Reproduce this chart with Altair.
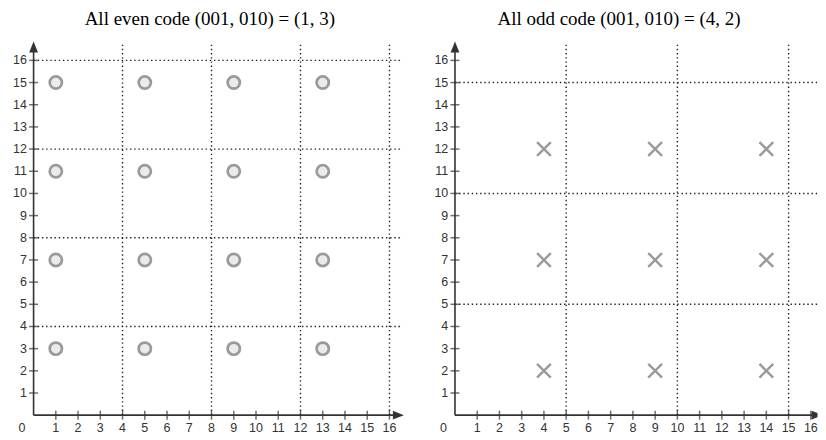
import altair as alt
import pandas as pd

# ---- data ----
titles = ["All even code (001, 010) = (1, 3)", "All odd code (001, 010) = (4, 2)"]
tick_values = list(range(1, 17))
even_x = [1, 5, 9, 13]
even_y = [3, 7, 11, 15]
odd_x = [4, 9, 14]
odd_y = [2, 7, 12]
even_grid = [4, 8, 12, 16]
odd_grid = [5, 10, 15]

# geometry of the hand-drawn axes (data units)
grid_top = 16.82
grid_right = 16.6
arrow_y = 16.6
label_off_y = -0.56
label_off_x = -0.3
zero_pos = (-0.52, -0.56)

AX = "#333333"
DOT = "#222222"
MK = "#9a9a9a"
FONT = "Liberation Sans"
FS = 12.5
UNIT = 22.27
UNIT_Y = 22.2
Y_DOM = [-0.72, 17.0]


def panel(title, px, py, kind, grid, xdom, arrow_x, clip_right=False):
    width = round((xdom[1] - xdom[0]) * UNIT, 1)
    height = round((Y_DOM[1] - Y_DOM[0]) * UNIT_Y, 1)
    xs = alt.Scale(domain=xdom, nice=False, zero=False)
    ys = alt.Scale(domain=Y_DOM, nice=False, zero=False)
    X = alt.X("x:Q", scale=xs, axis=None)
    Y = alt.Y("y:Q", scale=ys, axis=None)

    vgrid = pd.DataFrame({"x": grid, "y": [0] * len(grid), "y2": [grid_top] * len(grid)})
    hgrid = pd.DataFrame({"y": grid, "x": [0] * len(grid), "x2": [grid_right] * len(grid)})
    axes = pd.DataFrame({"x": [0, 0], "y": [0, 0], "x2": [arrow_x, 0], "y2": [0, arrow_y]})
    xt = pd.DataFrame({"x": tick_values, "y": [0] * len(tick_values)})
    yt = pd.DataFrame({"y": tick_values, "x": [0] * len(tick_values)})
    xl = pd.DataFrame({"x": tick_values, "y": [label_off_y] * len(tick_values),
                       "t": [str(v) for v in tick_values]})
    yl = pd.DataFrame({"y": tick_values, "x": [label_off_x] * len(tick_values),
                       "t": [str(v) for v in tick_values]})
    zl = pd.DataFrame({"x": [zero_pos[0]], "y": [zero_pos[1]], "t": ["0"]})
    pts = pd.DataFrame([{"x": a, "y": b} for b in py for a in px])
    xa = pd.DataFrame({"x": [arrow_x], "y": [0]})
    ya = pd.DataFrame({"x": [0], "y": [arrow_y]})

    dash = dict(strokeDash=[1.4, 2.8], strokeWidth=1.4, color=DOT)
    layers = [
        alt.Chart(vgrid).mark_rule(**dash).encode(x=X, y=Y, y2="y2:Q"),
        alt.Chart(hgrid).mark_rule(**dash, clip=clip_right).encode(x=X, y=Y, x2="x2:Q"),
        alt.Chart(axes).mark_rule(color=AX, strokeWidth=1.6, clip=clip_right).encode(
            x=X, y=Y, x2="x2:Q", y2="y2:Q"),
        alt.Chart(xt).mark_tick(orient="vertical", size=9, thickness=1.5, color=AX).encode(x=X, y=Y),
        alt.Chart(yt).mark_tick(orient="horizontal", size=9, thickness=1.5, color=AX).encode(x=X, y=Y),
        alt.Chart(xa).mark_point(shape="M1,0L-1,-0.8L-1,0.8Z", size=121, filled=True, opacity=1,
                                 color=AX, clip=clip_right).encode(x=X, y=Y),
        alt.Chart(ya).mark_point(shape="M0,-1L0.8,1L-0.8,1Z", size=121, filled=True, opacity=1,
                                 color=AX).encode(x=X, y=Y),
        alt.Chart(xl).mark_text(font=FONT, fontSize=FS, color=AX, align="center",
                                baseline="middle").encode(x=X, y=Y, text="t:N"),
        alt.Chart(yl).mark_text(font=FONT, fontSize=FS, color=AX, align="right",
                                baseline="middle").encode(x=X, y=Y, text="t:N"),
        alt.Chart(zl).mark_text(font=FONT, fontSize=FS, color=AX, align="center",
                                baseline="middle").encode(x=X, y=Y, text="t:N"),
    ]
    if kind == "circle":
        layers.append(alt.Chart(pts).mark_point(shape="circle", size=150, filled=False,
                                                 fill="#ebebeb", fillOpacity=1, stroke=MK,
                                                 strokeWidth=2.7, opacity=1).encode(x=X, y=Y))
    else:
        layers.append(alt.Chart(pts).mark_point(shape="M-1,-1L1,1M1,-1L-1,1", size=190,
                                                 filled=False, stroke=MK, strokeWidth=2.4,
                                                 opacity=1).encode(x=X, y=Y))
    return alt.layer(*layers).properties(
        width=width, height=height,
        title=alt.TitleParams(title, font="Liberation Serif", fontSize=19, fontWeight="normal",
                              color="black", anchor="middle", offset=9),
    )


left = panel(titles[0], even_x, even_y, "circle", even_grid, [-1.15, 17.0], 16.4)
right = panel(titles[1], odd_x, odd_y, "cross", odd_grid, [-1.55, 16.3], 16.28, clip_right=True)

chart = alt.hconcat(left, right, spacing=8).properties(
    padding={"left": 0, "right": 0, "top": 2, "bottom": 0}
).configure_view(strokeWidth=0)
chart.save("out.html", embed_options={"renderer": "svg", "actions": False})
